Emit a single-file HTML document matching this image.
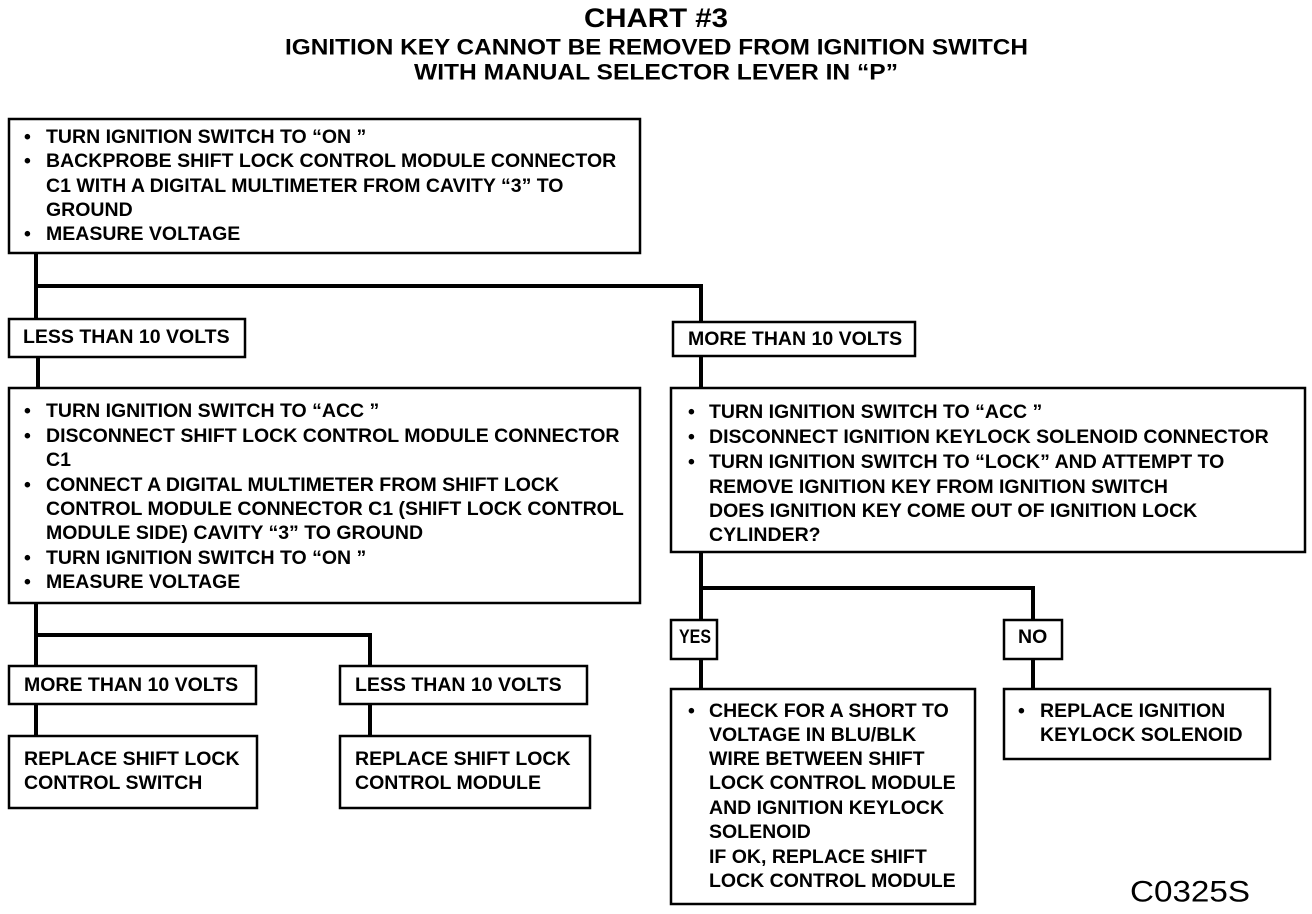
<!DOCTYPE html>
<html><head><meta charset="utf-8"><style>
html,body{margin:0;padding:0;background:#fff}
svg{display:block}
text{font-family:"Liberation Sans",Arial,sans-serif;font-weight:bold;fill:#000;dominant-baseline:central}
.t{font-size:19.5px}
</style></head><body>
<svg width="1312" height="914" viewBox="0 0 1312 914" xmlns="http://www.w3.org/2000/svg">
<text x="584" y="18" textLength="144" lengthAdjust="spacingAndGlyphs" style="font-size:27px">CHART #3</text>
<text x="285" y="47" textLength="743" lengthAdjust="spacingAndGlyphs" style="font-size:22px">IGNITION KEY CANNOT BE REMOVED FROM IGNITION SWITCH</text>
<text x="414" y="72" textLength="484" lengthAdjust="spacingAndGlyphs" style="font-size:22px">WITH MANUAL SELECTOR LEVER IN “P”</text>

<g fill="none" stroke="#000">
<g stroke-width="2.5">
<rect x="9" y="119" width="631" height="134"/>
<rect x="9" y="319" width="236" height="38"/>
<rect x="673" y="322" width="242" height="34"/>
<rect x="9" y="388" width="631" height="215"/>
<rect x="671" y="388" width="634" height="164"/>
<rect x="671" y="620" width="46" height="39"/>
<rect x="1004" y="620" width="58" height="39"/>
<rect x="671" y="689" width="304" height="215"/>
<rect x="1004" y="689" width="266" height="70"/>
<rect x="9" y="666" width="247" height="38"/>
<rect x="340" y="666" width="247" height="38"/>
<rect x="9" y="736" width="248" height="72"/>
<rect x="340" y="736" width="250" height="72"/>
</g>
<g stroke-width="4">
<path d="M36 253V319M36 286H701V322M701 356V388"/>
<path d="M38 357V388"/>
<path d="M701 552V620M701 588H1033V620M701 659V689M1033 659V689"/>
<path d="M36 603V666M36 635H370V666M36 704V736M370 704V736"/>
</g>
</g>

<g class="t">
<text x="24" y="137">•</text><text x="46" y="137">TURN IGNITION SWITCH TO “ON ”</text>
<text x="24" y="161">•</text><text x="46" y="161">BACKPROBE SHIFT LOCK CONTROL MODULE CONNECTOR</text>
<text x="46" y="186">C1 WITH A DIGITAL MULTIMETER FROM CAVITY “3” TO</text>
<text x="46" y="210">GROUND</text>
<text x="24" y="234">•</text><text x="46" y="234">MEASURE VOLTAGE</text>

<text x="23" y="337">LESS THAN 10 VOLTS</text>
<text x="688" y="339">MORE THAN 10 VOLTS</text>

<text x="24" y="411">•</text><text x="46" y="411">TURN IGNITION SWITCH TO “ACC ”</text>
<text x="24" y="436">•</text><text x="46" y="436">DISCONNECT SHIFT LOCK CONTROL MODULE CONNECTOR</text>
<text x="46" y="460">C1</text>
<text x="24" y="485">•</text><text x="46" y="485">CONNECT A DIGITAL MULTIMETER FROM SHIFT LOCK</text>
<text x="46" y="509">CONTROL MODULE CONNECTOR C1 (SHIFT LOCK CONTROL</text>
<text x="46" y="533">MODULE SIDE) CAVITY “3” TO GROUND</text>
<text x="24" y="558">•</text><text x="46" y="558">TURN IGNITION SWITCH TO “ON ”</text>
<text x="24" y="582">•</text><text x="46" y="582">MEASURE VOLTAGE</text>

<text x="688" y="412">•</text><text x="709" y="412">TURN IGNITION SWITCH TO “ACC ”</text>
<text x="688" y="437">•</text><text x="709" y="437">DISCONNECT IGNITION KEYLOCK SOLENOID CONNECTOR</text>
<text x="688" y="462">•</text><text x="709" y="462">TURN IGNITION SWITCH TO “LOCK” AND ATTEMPT TO</text>
<text x="709" y="487">REMOVE IGNITION KEY FROM IGNITION SWITCH</text>
<text x="709" y="511">DOES IGNITION KEY COME OUT OF IGNITION LOCK</text>
<text x="709" y="535">CYLINDER?</text>

<text x="679" y="637" textLength="32" lengthAdjust="spacingAndGlyphs">YES</text>
<text x="1018" y="637">NO</text>

<text x="688" y="711">•</text><text x="709" y="711">CHECK FOR A SHORT TO</text>
<text x="709" y="735">VOLTAGE IN BLU/BLK</text>
<text x="709" y="759">WIRE BETWEEN SHIFT</text>
<text x="709" y="783">LOCK CONTROL MODULE</text>
<text x="709" y="808">AND IGNITION KEYLOCK</text>
<text x="709" y="832">SOLENOID</text>
<text x="709" y="857">IF OK, REPLACE SHIFT</text>
<text x="709" y="881">LOCK CONTROL MODULE</text>

<text x="1018" y="711">•</text><text x="1040" y="711">REPLACE IGNITION</text>
<text x="1040" y="735">KEYLOCK SOLENOID</text>

<text x="24" y="685">MORE THAN 10 VOLTS</text>
<text x="355" y="685">LESS THAN 10 VOLTS</text>
<text x="24" y="759">REPLACE SHIFT LOCK</text>
<text x="24" y="783">CONTROL SWITCH</text>
<text x="355" y="759">REPLACE SHIFT LOCK</text>
<text x="355" y="783">CONTROL MODULE</text>
</g>
<text x="1130" y="892" textLength="120" lengthAdjust="spacingAndGlyphs" style="font-weight:normal;font-size:30px">C0325S</text>
</svg>
</body></html>
